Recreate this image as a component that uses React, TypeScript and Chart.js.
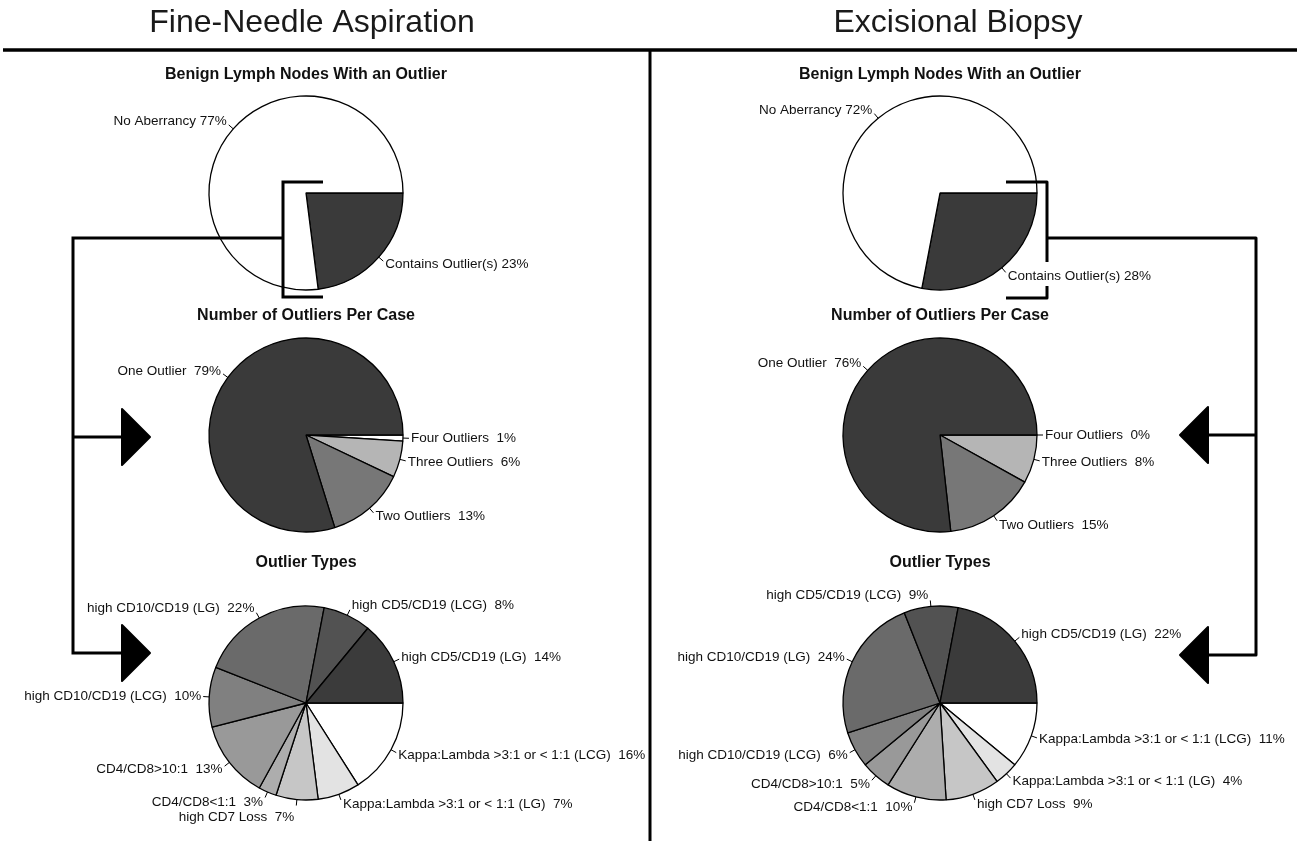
import React, { useEffect, useRef } from "react";
import { Chart, registerables } from "chart.js";

Chart.register(...registerables);

const FONT = '"Liberation Sans", Arial, Helvetica, sans-serif';

// ---------- data ----------
const panelTitles = ["Fine-Needle Aspiration", "Excisional Biopsy"];
const sectionTitles = [
  "Benign Lymph Nodes With an Outlier",
  "Number of Outliers Per Case",
  "Outlier Types",
];

const overviewLabels = ["Contains Outlier(s)", "No Aberrancy"];
const fnaOverview = [23, 77];
const excOverview = [28, 72];
const overviewColors = ["#3a3a3a", "#ffffff"];

const countLabels = ["Four Outliers", "Three Outliers", "Two Outliers", "One Outlier"];
const fnaCounts = [1, 6, 13, 79];
const excCounts = [0, 8, 15, 76];
const countColors = ["#ffffff", "#b5b5b5", "#777777", "#3a3a3a"];

const typeLabels = [
  "Kappa:Lambda >3:1 or < 1:1 (LCG)",
  "Kappa:Lambda >3:1 or < 1:1 (LG)",
  "high CD7 Loss",
  "CD4/CD8<1:1",
  "CD4/CD8>10:1",
  "high CD10/CD19 (LCG)",
  "high CD10/CD19 (LG)",
  "high CD5/CD19 (LCG)",
  "high CD5/CD19 (LG)",
];
const fnaTypes = [16, 7, 7, 3, 13, 10, 22, 8, 14];
const excTypes = [11, 4, 9, 10, 5, 6, 24, 9, 22];
const typeColors = [
  "#ffffff",
  "#e3e3e3",
  "#c6c6c6",
  "#adadad",
  "#999999",
  "#808080",
  "#6a6a6a",
  "#525252",
  "#3b3b3b",
];

// ---------- layout ----------
const W = 1300;
const H = 841;
const R = 97;
const colCenters = [306, 940];
const rowCenters = [193, 435, 703];
const titleYs = [75, 316, 563];

type Spec = {
  col: number;
  row: number;
  labels: string[];
  values: number[];
  colors: string[];
  sep: string;
};

const specs: Spec[] = [
  { col: 0, row: 0, labels: overviewLabels, values: fnaOverview, colors: overviewColors, sep: " " },
  { col: 0, row: 1, labels: countLabels, values: fnaCounts, colors: countColors, sep: "  " },
  { col: 0, row: 2, labels: typeLabels, values: fnaTypes, colors: typeColors, sep: "  " },
  { col: 1, row: 0, labels: overviewLabels, values: excOverview, colors: overviewColors, sep: " " },
  { col: 1, row: 1, labels: countLabels, values: excCounts, colors: countColors, sep: "  " },
  { col: 1, row: 2, labels: typeLabels, values: excTypes, colors: typeColors, sep: "  " },
];

function drawLabels(chart: any, spec: Spec) {
  const ctx: CanvasRenderingContext2D = chart.ctx;
  const meta = chart.getDatasetMeta(0);
  const cx = colCenters[spec.col];
  const cy = rowCenters[spec.row];
  ctx.save();
  // section title
  ctx.fillStyle = "#111";
  ctx.font = `bold 16px ${FONT}`;
  ctx.textAlign = "center";
  ctx.textBaseline = "middle";
  ctx.fillText(sectionTitles[spec.row], cx, titleYs[spec.row]);

  ctx.font = `13.5px ${FONT}`;
  type L = { text: string; x: number; y: number; left: boolean; w: number };
  const items: L[] = [];
  meta.data.forEach((arc: any, i: number) => {
    const p = arc.getProps(["startAngle", "endAngle", "x", "y", "outerRadius"], true);
    const a = (p.startAngle + p.endAngle) / 2;
    const c = Math.cos(a);
    const s = Math.sin(a);
    const x1 = p.x + p.outerRadius * c;
    const y1 = p.y + p.outerRadius * s;
    const x2 = p.x + (p.outerRadius + 6) * c;
    const y2 = p.y + (p.outerRadius + 6) * s;
    ctx.strokeStyle = "#000";
    ctx.lineWidth = 1;
    ctx.beginPath();
    ctx.moveTo(x1, y1);
    ctx.lineTo(x2, y2);
    ctx.stroke();
    const text = `${spec.labels[i]}${spec.sep}${spec.values[i]}%`;
    const left = c >= 0;
    items.push({
      text,
      x: x2 + (left ? 2 : -2),
      y: y2 + s * 5,
      left,
      w: ctx.measureText(text).width,
    });
  });
  const span = (l: L) => (l.left ? [l.x, l.x + l.w] : [l.x - l.w, l.x]);
  const overlap = (a: L, b: L) => {
    const [a0, a1] = span(a);
    const [b0, b1] = span(b);
    return a0 < b1 && b0 < a1;
  };
  const gap = 15;
  const lower = items.filter((l) => l.y >= cy).sort((a, b) => a.y - b.y);
  for (let i = 1; i < lower.length; i++) {
    for (let j = 0; j < i; j++) {
      if (overlap(lower[i], lower[j]) && lower[i].y - lower[j].y < gap) lower[i].y = lower[j].y + gap;
    }
  }
  const upper = items.filter((l) => l.y < cy).sort((a, b) => b.y - a.y);
  for (let i = 1; i < upper.length; i++) {
    for (let j = 0; j < i; j++) {
      if (overlap(upper[i], upper[j]) && upper[j].y - upper[i].y < gap) upper[i].y = upper[j].y - gap;
    }
  }
  ctx.fillStyle = "#111";
  ctx.textBaseline = "middle";
  items.forEach((l) => {
    ctx.textAlign = l.left ? "left" : "right";
    ctx.fillText(l.text, l.x, l.y);
  });
  ctx.restore();
}

function triangle(ctx: CanvasRenderingContext2D, baseX: number, tipX: number, y: number) {
  ctx.beginPath();
  ctx.moveTo(baseX, y - 28);
  ctx.lineTo(tipX, y);
  ctx.lineTo(baseX, y + 28);
  ctx.closePath();
  ctx.lineJoin = "round";
  ctx.lineWidth = 2;
  ctx.fill();
  ctx.stroke();
}

function drawDecor(chart: any) {
  const ctx: CanvasRenderingContext2D = chart.ctx;
  ctx.save();
  ctx.fillStyle = "#1a1a1a";
  ctx.font = `32px ${FONT}`;
  ctx.textAlign = "center";
  ctx.textBaseline = "middle";
  ctx.fillText(panelTitles[0], 312, 23);
  ctx.fillText(panelTitles[1], 958, 23);

  ctx.strokeStyle = "#000";
  ctx.fillStyle = "#000";
  ctx.lineCap = "butt";
  ctx.lineJoin = "miter";
  ctx.lineWidth = 3.5;
  ctx.beginPath();
  ctx.moveTo(3, 50);
  ctx.lineTo(1297, 50);
  ctx.stroke();
  ctx.lineWidth = 3;
  ctx.beginPath();
  ctx.moveTo(650, 50);
  ctx.lineTo(650, H);
  ctx.stroke();

  const [lc, rc] = colCenters;
  const [r0, r1, r2] = rowCenters;
  // left bracket + connectors
  ctx.lineWidth = 3;
  ctx.beginPath();
  ctx.moveTo(lc + 17, r0 - 11);
  ctx.lineTo(lc - 23, r0 - 11);
  ctx.lineTo(lc - 23, r0 + 104);
  ctx.lineTo(lc + 17, r0 + 104);
  ctx.stroke();
  ctx.beginPath();
  ctx.moveTo(lc - 23, r0 + 45);
  ctx.lineTo(73, r0 + 45);
  ctx.lineTo(73, r2 - 50);
  ctx.lineTo(122, r2 - 50);
  ctx.moveTo(73, r1 + 2);
  ctx.lineTo(122, r1 + 2);
  ctx.stroke();
  triangle(ctx, 122, 150, r1 + 2);
  triangle(ctx, 122, 150, r2 - 50);

  // right bracket (broken where the label passes) + connectors
  ctx.lineWidth = 3;
  ctx.beginPath();
  ctx.moveTo(rc + 66, r0 - 11);
  ctx.lineTo(rc + 107, r0 - 11);
  ctx.lineTo(rc + 107, r0 + 69);
  ctx.moveTo(rc + 107, r0 + 93);
  ctx.lineTo(rc + 107, r0 + 105);
  ctx.lineTo(rc + 66, r0 + 105);
  ctx.stroke();
  ctx.beginPath();
  ctx.moveTo(rc + 107, r0 + 45);
  ctx.lineTo(1256, r0 + 45);
  ctx.lineTo(1256, r2 - 48);
  ctx.lineTo(1208, r2 - 48);
  ctx.moveTo(1256, r1);
  ctx.lineTo(1208, r1);
  ctx.stroke();
  triangle(ctx, 1208, 1180, r1);
  triangle(ctx, 1208, 1180, r2 - 48);
  ctx.restore();
}

function makeConfig(spec: Spec, withDecor: boolean): any {
  const cx = colCenters[spec.col];
  const cy = rowCenters[spec.row];
  return {
    type: "pie",
    data: {
      labels: spec.labels,
      datasets: [
        {
          data: spec.values,
          backgroundColor: spec.colors,
          borderColor: "#000",
          borderWidth: 1.3,
          radius: R,
        },
      ],
    },
    options: {
      responsive: false,
      animation: false,
      events: [],
      rotation: 90,
      layout: {
        padding: { left: cx - R, right: W - cx - R, top: cy - R, bottom: H - cy - R },
      },
      plugins: {
        legend: { display: false },
        tooltip: { enabled: false },
        title: { display: false },
      },
    },
    plugins: [
      {
        id: "pieLabels",
        afterDatasetsDraw(chart: any) {
          drawLabels(chart, spec);
        },
      },
      ...(withDecor
        ? [
            {
              id: "decor",
              afterDraw(chart: any) {
                drawDecor(chart);
              },
            },
          ]
        : []),
    ],
  };
}

export default function App() {
  const refs = useRef<(HTMLCanvasElement | null)[]>([]);
  useEffect(() => {
    const charts = specs.map(
      (s, i) => new Chart(refs.current[i] as HTMLCanvasElement, makeConfig(s, i === specs.length - 1))
    );
    return () => charts.forEach((c) => c.destroy());
  }, []);
  return (
    <div
      style={{
        position: "absolute",
        left: 0,
        top: 0,
        width: W,
        height: H,
        background: "#fff",
        overflow: "hidden",
      }}
    >
      {specs.map((s, i) => (
        <canvas
          key={i}
          ref={(el) => {
            refs.current[i] = el;
          }}
          width={W}
          height={H}
          style={{ position: "absolute", left: 0, top: 0, width: W, height: H }}
        />
      ))}
    </div>
  );
}
